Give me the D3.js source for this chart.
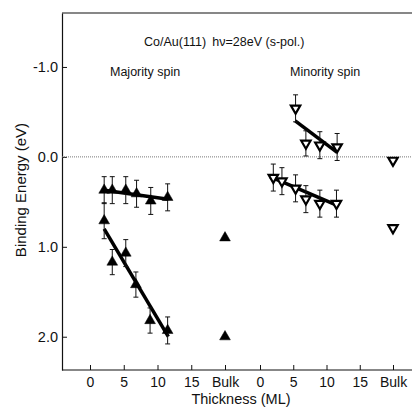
<!DOCTYPE html>
<html>
<head>
<meta charset="utf-8">
<script src="https://cdn.jsdelivr.net/npm/d3@7"></script>
<style>
body { margin: 0; background: #fff; }
text { font-family: "Liberation Sans", Arial, sans-serif; fill: #111; }
</style>
</head>
<body>
<svg width="412" height="412"></svg>
<script>
// thickness (ML) and binding energy (eV)
var majUpT = [2.1, 3.3, 5.3, 6.9, 9.0, 11.5];
var majUpE = [0.37, 0.37, 0.37, 0.41, 0.49, 0.45];
var majUpErr = [0.15, 0.15, 0.15, 0.15, 0.15, 0.15];
var majLoT = [2.1, 3.3, 5.3, 6.8, 8.9, 11.5];
var majLoE = [0.71, 1.17, 1.07, 1.42, 1.82, 1.93];
var majLoErr = [0.2, 0.14, 0.15, 0.14, 0.14, 0.15];
var majBulkE = [0.9, 2.0];

var minUpT = [5.35, 6.9, 9.0, 11.6];
var minUpE = [-0.54, -0.15, -0.13, -0.11];
var minUpErr = [0.15, 0.14, 0.15, 0.15];
var minLoT = [2.0, 3.3, 5.35, 6.9, 9.0, 11.5];
var minLoE = [0.23, 0.27, 0.35, 0.47, 0.52, 0.52];
var minLoErr = [0.15, 0.15, 0.15, 0.15, 0.15, 0.15];
var minBulkE = [0.04, 0.79];

// linear fits (end points)
var majUpFit = [[2.1, 0.37], [11.6, 0.47]];
var majLoFit = [[2.1, 0.8], [11.6, 2.0]];
var minUpFit = [[5.3, -0.40], [11.6, -0.05]];
var minLoFit = [[1.5, 0.22], [11.6, 0.54]];

var bulkPos = 20;
var xTicks = [0, 5, 10, 15, 20];
var yTicks = [-1, 0, 1, 2];

var margin = {left: 62, right: 412, top: 13, bottom: 370};

var svg = d3.select("svg");

var y = d3.scaleLinear().domain([-1.6, 2.37]).range([margin.top, margin.bottom]);
var xL = d3.scaleLinear().domain([0, 20]).range([90, 225]);
var xR = d3.scaleLinear().domain([0, 20]).range([260, 393]);

//frame: top and bottom lines, left axis
svg.append("line").attr("x1", margin.left).attr("x2", margin.right)
    .attr("y1", margin.top).attr("y2", margin.top)
    .attr("stroke", "#111").attr("stroke-width", 1.2);
svg.append("line").attr("x1", margin.left).attr("x2", margin.right)
    .attr("y1", margin.bottom).attr("y2", margin.bottom)
    .attr("stroke", "#111").attr("stroke-width", 1.2);

var yAxis = svg.append("g")
    .attr("transform", "translate(" + margin.left + ",0)")
    .call(d3.axisLeft(y).tickValues(yTicks)
	  .tickFormat(function(d) { return d.toFixed(1); })
	  .tickSizeInner(-5).tickSizeOuter(0).tickPadding(4));
yAxis.selectAll("text").style("font-size", "14.5px");

function bottomAxis(sc) {
    var g = svg.append("g")
	.attr("transform", "translate(0," + margin.bottom + ")")
	.call(d3.axisBottom(sc).tickValues(xTicks)
	      .tickFormat(function(d) { return d == bulkPos ? "Bulk" : d; })
	      .tickSizeInner(-5).tickSizeOuter(0).tickPadding(7));
    g.select(".domain").remove();
    g.selectAll("text").style("font-size", "14px");
}
bottomAxis(xL);
bottomAxis(xR);
svg.selectAll(".tick line").attr("stroke", "#111");
svg.selectAll(".domain").attr("stroke", "#111").attr("stroke-width", 1.2);

//zero line
svg.append("line").attr("x1", margin.left).attr("x2", margin.right)
    .attr("y1", y(0)).attr("y2", y(0))
    .attr("stroke", "#777").attr("stroke-width", 1).attr("stroke-dasharray", "1,1");

//fits
var line = function(sc) {
    return d3.line().x(function(d) { return sc(d[0]); }).y(function(d) { return y(d[1]); });
};
[[majUpFit, xL], [majLoFit, xL], [minUpFit, xR], [minLoFit, xR]].forEach(function(f) {
    svg.append("path").attr("d", line(f[1])(f[0]))
	.attr("fill", "none").attr("stroke", "#000").attr("stroke-width", 3.5);
});

function series(ts, es, errs, sc, open) {
    var data = ts.map(function(t, i) { return {t: t, e: es[i], err: errs ? errs[i] : 0}; });
    var g = svg.append("g");
    if (errs) {
	var eb = g.selectAll(".eb").data(data).enter().append("g")
	    .attr("stroke", "#111").attr("stroke-width", 1);
	eb.append("line")
	    .attr("x1", function(d) { return sc(d.t); }).attr("x2", function(d) { return sc(d.t); })
	    .attr("y1", function(d) { return y(d.e - d.err); }).attr("y2", function(d) { return y(d.e + d.err); });
	[-1, 1].forEach(function(s) {
	    eb.append("line")
		.attr("x1", function(d) { return sc(d.t) - 2.5; }).attr("x2", function(d) { return sc(d.t) + 2.5; })
		.attr("y1", function(d) { return y(d.e + s * d.err); }).attr("y2", function(d) { return y(d.e + s * d.err); });
	});
    }
    g.selectAll(".pt").data(data).enter().append("path")
	.attr("d", d3.symbol(d3.symbolTriangle, open ? 38 : 50))
	.attr("transform", function(d) {
	    return "translate(" + sc(d.t) + "," + y(d.e) + ")" + (open ? " rotate(180)" : "");
	})
	.attr("fill", open ? "#fff" : "#000")
	.attr("stroke", "#000").attr("stroke-width", open ? 2.2 : 0.5);
}

series(majUpT, majUpE, majUpErr, xL, false);
series(majLoT, majLoE, majLoErr, xL, false);
series(majBulkE.map(function() { return bulkPos; }), majBulkE, null, xL, false);
series(minUpT, minUpE, minUpErr, xR, true);
series(minLoT, minLoE, minLoErr, xR, true);
series(minBulkE.map(function() { return bulkPos; }), minBulkE, null, xR, true);

//labels
svg.append("text").attr("x", 144).attr("y", 46).style("font-size", "12.5px")
    .text("Co/Au(111)\u2002h\u03bd=28eV (s-pol.)");
svg.append("text").attr("x", 110).attr("y", 76).style("font-size", "12.5px").text("Majority spin");
svg.append("text").attr("x", 290).attr("y", 76).style("font-size", "12.5px").text("Minority spin");

svg.append("text").attr("x", 241).attr("y", 404).attr("text-anchor", "middle")
    .style("font-size", "14.5px").text("Thickness (ML)");
svg.append("text").attr("transform", "translate(26,190) rotate(-90)").attr("text-anchor", "middle")
    .style("font-size", "15px").text("Binding Energy (eV)");
</script>
</body>
</html>
